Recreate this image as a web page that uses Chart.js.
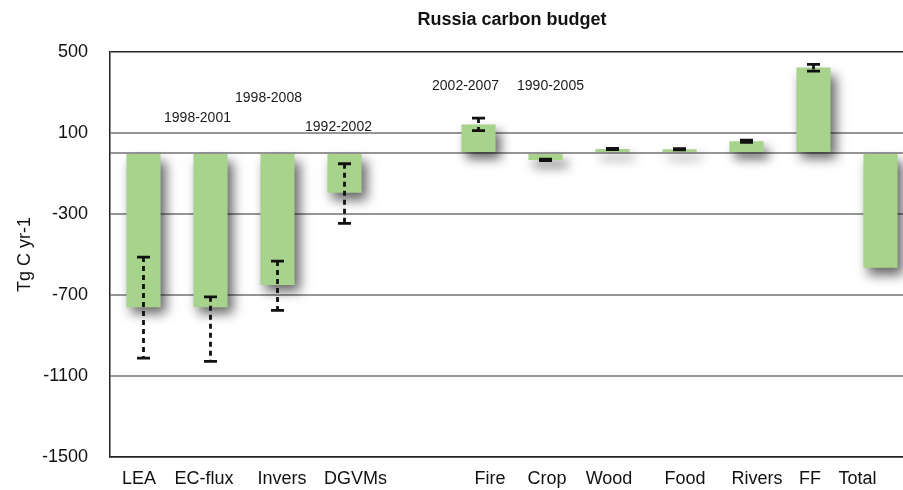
<!DOCTYPE html>
<html><head><meta charset="utf-8">
<script src="https://cdn.jsdelivr.net/npm/chart.js@4.4.1/dist/chart.umd.min.js"></script>
<style>html,body{margin:0;padding:0;overflow:hidden;background:#fff}#wrap{position:absolute;left:0;top:0;width:930px;height:490px}</style>
</head><body><div id="wrap"><canvas id="c"></canvas></div>
<script>
// ---- data ----
const categories = ['LEA','EC-flux','Invers','DGVMs','','Fire','Crop','Wood','Food','Rivers','FF','Total'];
const fluxValues = [-760,-760,-651,-196,null,140,-35,20,19,58,421,-566];
const errorLow   = [-1011,-1027,-776,-347,null,110,-37,17,16,53,404,null];
const errorHigh  = [-513,-709,-533,-53,null,172,-30,23,22,63,437,null];
const periodLabels = ['','1998-2001','1998-2008','1992-2002','','2002-2007','1990-2005','','','','',''];
const yTicks = [500,100,-300,-700,-1100,-1500];

const FONT = '"Liberation Sans", Arial, Helvetica, sans-serif';
Chart.defaults.font.family = FONT;

// placement of the period labels (pixel offset from bar centre, height in data units)
const periodPlacement = {1:{dx:-13,v:171},2:{dx:-9,v:269},3:{dx:-6,v:126},5:{dx:-13,v:328},6:{dx:5,v:328}};
// horizontal nudges of category labels (pixels)
const labelNudge = {'LEA':-4.5,'EC-flux':-6.5,'Invers':4.5,'DGVMs':11,'Fire':11.5,'Crop':1.5,'Wood':-3.5,'Food':5.5,'Rivers':10.5,'FF':-3.5,'Total':-23};

const shadowPlugin = {
  id:'shadow',
  beforeDatasetDraw(chart){const c=chart.ctx;c.save();c.shadowColor='rgba(0,0,0,0.6)';c.shadowBlur=11;c.shadowOffsetX=5;c.shadowOffsetY=7;},
  afterDatasetDraw(chart){chart.ctx.restore();}
};
const nudgePlugin = {
  id:'nudge',
  beforeDraw(chart){
    const items = chart.scales.x.getLabelItems(chart.chartArea);
    if(items._nudged) return;
    items.forEach(it=>{const d=labelNudge[it.label];if(d) it.options.translation[0]+=d;});
    items._nudged=true;
  }
};
const errorPlugin = {
  id:'errbars',
  afterDatasetsDraw(chart){
    const c=chart.ctx,xs=chart.scales.x,ys=chart.scales.y;
    c.save();
    c.strokeStyle='#111';c.lineWidth=2.8;
    for(let i=0;i<categories.length;i++){
      if(errorLow[i]==null||errorHigh[i]==null) continue;
      const x=xs.getPixelForValue(i),y1=ys.getPixelForValue(errorLow[i]),y2=ys.getPixelForValue(errorHigh[i]);
      c.setLineDash([5,4]);
      c.beginPath();c.moveTo(x,y2);c.lineTo(x,y1);c.stroke();
      c.setLineDash([]);
      c.beginPath();c.moveTo(x-6.5,y1);c.lineTo(x+6.5,y1);c.moveTo(x-6.5,y2);c.lineTo(x+6.5,y2);c.stroke();
    }
    c.restore();
  }
};
const periodPlugin = {
  id:'periods',
  afterDraw(chart){
    const c=chart.ctx,xs=chart.scales.x,ys=chart.scales.y;
    c.save();c.font='14px '+FONT;c.fillStyle='#1a1a1a';c.textAlign='center';c.textBaseline='middle';
    periodLabels.forEach((t,i)=>{if(!t)return;const p=periodPlacement[i];
      c.fillText(t,xs.getPixelForValue(i)+p.dx,ys.getPixelForValue(p.v));});
    c.restore();
  }
};

new Chart(document.getElementById('c'),{
  type:'bar',
  data:{labels:categories,datasets:[{data:fluxValues,backgroundColor:'rgb(168,211,140)',borderWidth:0,categoryPercentage:1,barPercentage:0.51}]},
  options:{
    responsive:true,maintainAspectRatio:false,animation:false,events:[],
    layout:{padding:{left:0,right:16,top:0,bottom:0}},
    plugins:{legend:{display:false},tooltip:{enabled:false},
      title:{display:true,text:'Russia carbon budget',fullSize:false,color:'#111',font:{size:18,weight:'bold'},padding:{top:9,bottom:21}}},
    scales:{
      x:{grid:{display:false,drawTicks:false},border:{display:true,color:'#222',width:1.5},
         ticks:{color:'#111',font:{size:18},padding:11,autoSkip:false,maxRotation:0,minRotation:0},
         afterFit(s){s.height=31;}},
      y:{min:-1500,max:500,
         afterBuildTicks(s){s.ticks=yTicks.concat([0]).map(v=>({value:v}));},
         afterFit(s){s.width=110;},
         ticks:{color:'#111',font:{size:18},padding:22,callback:v=>v===0?'':String(v)},
         grid:{drawTicks:false,color:c=>(c.tick&&(c.tick.value===500||c.tick.value===-1500))?'#222':'#969696',
               lineWidth:c=>(c.tick&&(c.tick.value===500||c.tick.value===-1500))?1.5:2},
         border:{display:true,color:'#222',width:1.5},
         title:{display:true,text:'Tg C yr-1',color:'#111',font:{size:18},padding:{top:14,bottom:0}}}
    }
  },
  plugins:[shadowPlugin,nudgePlugin,errorPlugin,periodPlugin]
});
</script></body></html>
